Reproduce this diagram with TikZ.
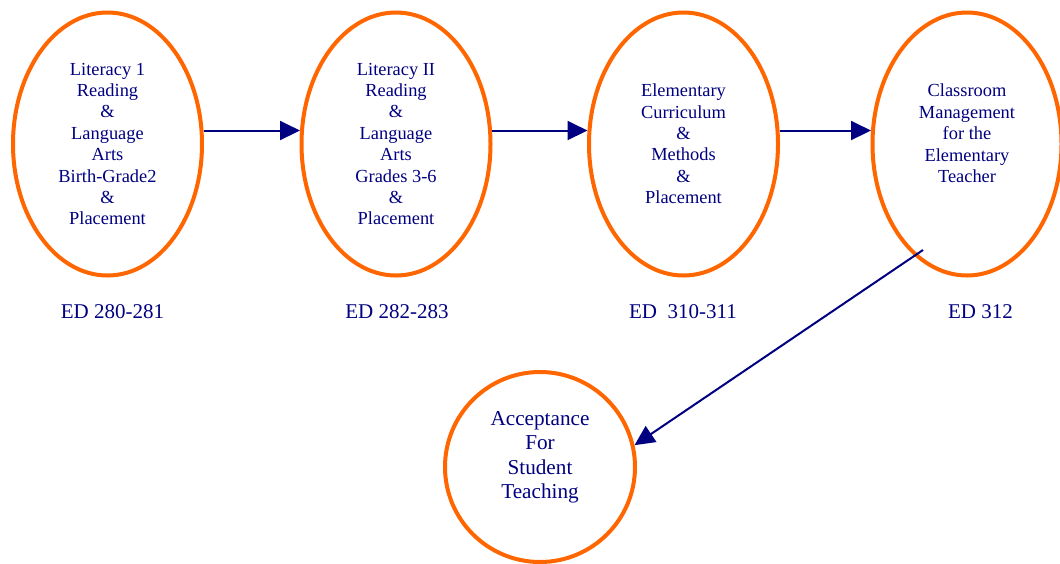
\documentclass[tikz,border=0pt]{standalone}
\usepackage{fontspec}
\setmainfont{Liberation Serif}
\newfontfamily\timesfont{Liberation Serif}
\usetikzlibrary{shapes.geometric,arrows.meta}
\definecolor{ringorange}{HTML}{FF6600}
\definecolor{inknavy}{HTML}{000080}

\begin{document}
\begin{tikzpicture}[x=0.5pt,y=-0.5pt,
  course/.style={ellipse,draw=ringorange,line width=2pt,inner sep=0pt,
    minimum width=94.5pt,minimum height=131.5pt,align=center,text=inknavy,
    font=\timesfont\fontsize{9.2}{10.7}\selectfont},
  code/.style={text=inknavy,font=\timesfont\fontsize{10.5}{12}\selectfont},
  link/.style={draw=inknavy,line width=1pt,-{Triangle[length=10pt,width=9.5pt]}}]
\useasboundingbox (0,0) rectangle (1060,563);

% the four courses
\node [course] (lit1) at (107.5,144) {Literacy 1\\Reading\\\&\\Language\\Arts\\Birth-Grade2\\\&\\Placement};
\node [course] (lit2) at (396,144) {Literacy II\\Reading\\\&\\Language\\Arts\\Grades 3-6\\\&\\Placement};
\node [course] (elem) at (683.5,144) {Elementary\\Curriculum\\\&\\Methods\\\&\\Placement};
\node [course] (mgmt) at (967,144) {Classroom\\Management\\for the\\Elementary\\Teacher\\~};

% course numbers
\node [code] (c1) at (112.5,312) {ED 280-281};
\node [code] (c2) at (397,312) {ED 282-283};
\node [code] (c3) at (683,312) {ED\ \ 310-311};
\node [code] (c4) at (980.5,312) {ED 312};

% last step
\node [course,circle,minimum size=95pt,font=\timesfont\fontsize{10.6}{12.25}\selectfont] (accept) at (540,467)
  {Acceptance\\For\\Student\\Teaching\\~};

\draw [link] (lit1.8) -- (lit2.172);
\draw [link] (lit2.8) -- (elem.172);
\draw [link] (elem.8) -- (mgmt.172);
\coordinate (leave) at (923,250);
\draw [link] (leave) -- (accept.13);
\end{tikzpicture}
\end{document}
